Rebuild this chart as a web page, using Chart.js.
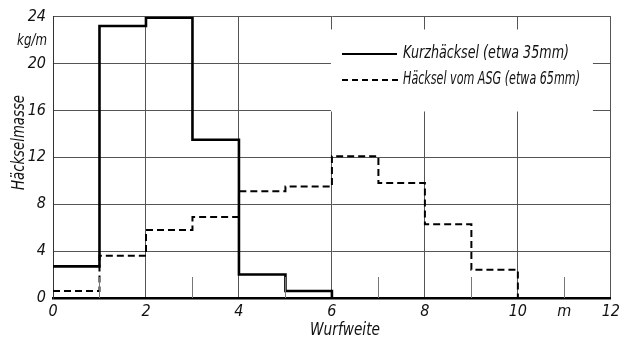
<!DOCTYPE html>
<html>
<head>
<meta charset="utf-8">
<script src="https://cdn.jsdelivr.net/npm/chart.js@4.4.0/dist/chart.umd.min.js"></script>
<style>
  html, body { margin: 0; padding: 0; background: #fff; }
  #wrap { width: 624px; height: 344px; }
</style>
</head>
<body>
<div id="wrap"><canvas id="myChart" width="624" height="344"></canvas></div>
<script>
// Wurfweite in Meter, Beginn jeder 1-m-Klasse
let binStarts = [0, 1, 2, 3, 4, 5, 6, 7, 8, 9];
// Kurzhäcksel (etwa 35 mm), kg/m
let kurzValues = [2.7, 23.2, 23.9, 13.5, 2.0, 0.6];
// Häcksel vom ASG (etwa 65 mm), kg/m
let asgValues = [0.6, 3.6, 5.8, 6.9, 9.1, 9.5, 12.1, 9.8, 6.3, 2.4];
let seriesLabels = ['Kurzhäcksel (etwa 35mm)', 'Häcksel vom ASG (etwa 65mm)'];
let yTicks = [0, 4, 8, 12, 16, 20, 24];
let xTickLabels = {0: '0', 2: '2', 4: '4', 6: '6', 8: '8', 10: '10', 11: 'm', 12: '12'};

let fontFam = "'Liberation Sans Narrow', 'DejaVu Sans Condensed', 'Liberation Sans', sans-serif";

// Treppenkurve: jede Klasse ab ihrem Beginn, am Ende zurück auf 0
function steps(values) {
	let pts = values.map((v, i) => ({ x: binStarts[i], y: v }));
	pts.push({ x: binStarts[values.length - 1] + 1, y: 0 });
	return pts;
}

// Text schmal zeichnen (Schrift im Original ist eng)
function narrowText(ctx, text, x, y, width) {
	let w = ctx.measureText(text).width;
	ctx.save();
	ctx.translate(x, y);
	ctx.scale(width / w, 1);
	ctx.fillText(text, 0, 0);
	ctx.restore();
}

// Beschriftungen, Legende und kurze Teilstriche selbst zeichnen
let extras = {
	id: 'extras',
	afterDatasetsDraw(chart) {
		let ctx = chart.ctx;
		let xs = chart.scales.x, ys = chart.scales.y;
		let area = chart.chartArea;
		ctx.save();

		// kurze Teilstriche an den ungeraden Metern
		ctx.strokeStyle = '#777';
		ctx.lineWidth = 1;
		[1, 3, 5, 7, 9, 11].forEach(v => {
			let px = Math.round(xs.getPixelForValue(v)) + 0.5;
			ctx.beginPath();
			ctx.moveTo(px, area.bottom);
			ctx.lineTo(px, area.bottom - 21);
			ctx.stroke();
		});

		// Legende mit weißem Hintergrund
		let bx = xs.getPixelForValue(6), by = ys.getPixelForValue(22.9);
		ctx.fillStyle = '#fff';
		ctx.fillRect(bx - 1, by, 262, 82);
		ctx.strokeStyle = '#000';
		ctx.lineWidth = 2;
		ctx.beginPath();
		ctx.moveTo(342, 54);
		ctx.lineTo(397, 54);
		ctx.stroke();
		ctx.setLineDash([6, 4]);
		ctx.beginPath();
		ctx.moveTo(342, 80);
		ctx.lineTo(399, 80);
		ctx.stroke();
		ctx.setLineDash([]);
		ctx.fillStyle = '#111';
		ctx.font = 'italic 18px ' + fontFam;
		ctx.textBaseline = 'middle';
		ctx.textAlign = 'left';
		narrowText(ctx, seriesLabels[0], 403, 53, 166);
		narrowText(ctx, seriesLabels[1], 403, 79, 177);

		// Einheit unter der 24
		ctx.font = 'italic 16px ' + fontFam;
		ctx.textAlign = 'right';
		narrowText(ctx, 'kg/m', 47, ys.getPixelForValue(24) + 24, 30);

		// Achsentitel
		ctx.font = 'italic 17px ' + fontFam;
		ctx.textAlign = 'left';
		narrowText(ctx, 'Wurfweite', 310, 331, 70);
		ctx.translate(20, 190);
		ctx.rotate(-Math.PI / 2);
		narrowText(ctx, 'Häckselmasse', 0, 0, 95);
		ctx.restore();
	}
};

let myChart = document.getElementById('myChart').getContext('2d');

let chart = new Chart(myChart, {
	type: 'line',
	data: {
		datasets: [{
			label: seriesLabels[0],
			data: steps(kurzValues),
			stepped: 'before',
			borderColor: '#000',
			borderWidth: 2.6,
			pointRadius: 0,
			fill: false
		}, {
			label: seriesLabels[1],
			data: steps(asgValues),
			stepped: 'before',
			borderColor: '#000',
			borderWidth: 2,
			borderDash: [7, 4],
			pointRadius: 0,
			fill: false
		}]
	},
	options: {
		responsive: false,
		animation: false,
		layout: { padding: { top: 14, right: 11, left: 0, bottom: 0 } },
		plugins: {
			legend: { display: false },
			tooltip: { enabled: false }
		},
		scales: {
			x: {
				type: 'linear',
				min: 0,
				max: 12,
				afterFit: s => { s.height = 46; },
				ticks: {
					stepSize: 1,
					autoSkip: false,
					maxRotation: 0,
					padding: 4,
					color: '#111',
					font: { family: fontFam, size: 16, style: 'italic' },
					callback: v => xTickLabels[v] !== undefined ? xTickLabels[v] : ''
				},
				grid: {
					drawTicks: false,
					color: c => (c.tick && c.tick.value % 2 === 0) ? '#555' : 'rgba(0,0,0,0)',
					lineWidth: 1
				},
				border: { color: '#000', width: 2.5 }
			},
			y: {
				min: 0,
				max: 24,
				afterFit: s => { s.width = 53; },
				afterBuildTicks: s => { s.ticks = yTicks.map(v => ({ value: v })); },
				ticks: {
					padding: 7,
					color: '#111',
					font: { family: fontFam, size: 16, style: 'italic' }
				},
				grid: { drawTicks: false, color: '#555', lineWidth: 1 },
				border: { color: '#333', width: 1 }
			}
		}
	},
	plugins: [extras]
});
</script>
</body>
</html>
